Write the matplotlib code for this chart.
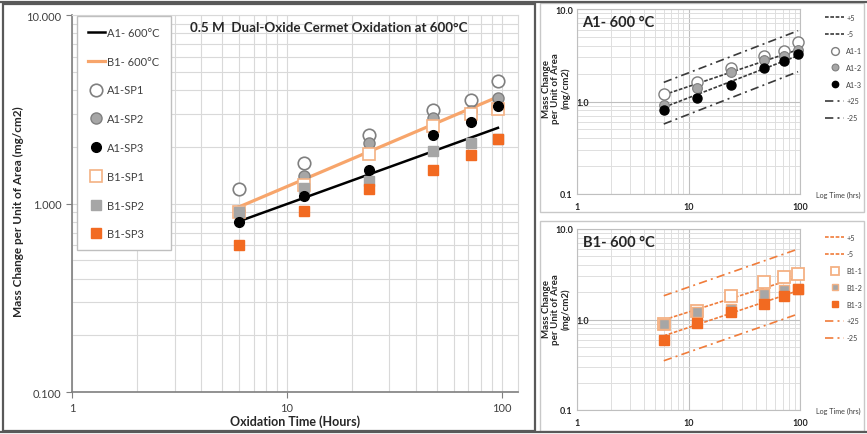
import matplotlib
matplotlib.use("Agg")
import matplotlib.pyplot as plt
from matplotlib.patches import Rectangle
from matplotlib.lines import Line2D
from matplotlib.ticker import FixedLocator, LogLocator, NullFormatter
from matplotlib.transforms import ScaledTranslation

plt.rcParams['font.family'] = ['Lato', 'DejaVu Sans']

# ---------------- data ----------------
hours = [6, 12, 24, 48, 72, 96]
a1_sp1 = [1.20, 1.64, 2.32, 3.13, 3.53, 4.44]
a1_sp2 = [0.91, 1.40, 2.10, 2.83, 3.11, 3.62]
a1_sp3 = [0.80, 1.09, 1.50, 2.30, 2.71, 3.28]
b1_sp1 = [0.90, 1.25, 1.82, 2.57, 2.97, 3.18]
b1_sp2 = [0.90, 1.21, 1.31, 1.89, 2.10, 2.20]
b1_sp3 = [0.60, 0.91, 1.20, 1.50, 1.80, 2.20]

fit_hours = [6, 96]
a1_fit = [0.805, 2.52]
b1_fit = [0.96, 3.68]

# band lines in the small panels (+S, -S, +2S, -2S)
a1_plus_s = [1.18, 3.63]
a1_minus_s = [0.865, 3.13]
a1_plus_2s = [1.61, 5.82]
a1_minus_2s = [0.571, 2.10]
b1_plus_s = [0.99, 2.93]
b1_minus_s = [0.66, 2.08]
b1_plus_2s = [1.83, 6.0]
b1_minus_2s = [0.35, 1.15]

y_ticks = [0.1, 1, 10]
main_y_labels = ['0.100', '1.000', '10.000']
small_y_labels = ['0.1', '1.0', '10.0']
x_ticks = [1, 10, 100]
x_labels = ['1', '10', '100']

W, H = 867, 435
fig = plt.figure(figsize=(W / 100, H / 100), dpi=100)


def frac_rect(x0, y0, x1, y1):
    return [x0 / W, 1 - y1 / H, (x1 - x0) / W, (y1 - y0) / H]


GRAY_TXT = '#404040'
ORANGE = '#f26a21'
LIGHT_OR = '#f4b183'
GRAY_FILL = '#a6a6a6'
GRAY_EDGE = '#7f7f7f'

# ---------------- main chart ----------------
ax = fig.add_axes(frac_rect(72, 16, 518, 393))
ax.set_xscale('log')
ax.set_yscale('log')
ax.set_xlim(1, 119)
ax.set_ylim(0.1, 10)

ax.plot(fit_hours, a1_fit, color='black', lw=1.8, label='A1- 600°C', zorder=3)
ax.plot(fit_hours, b1_fit, color='#f7a56b', lw=2.3, label='B1- 600°C', zorder=3)
ax.plot(hours, a1_sp1, 'o', ms=9, mfc='white', mec=GRAY_EDGE, mew=1.2, label='A1-SP1', zorder=4)
ax.plot(hours, a1_sp2, 'o', ms=8, mfc=GRAY_FILL, mec=GRAY_EDGE, mew=1.0, label='A1-SP2', zorder=4)
ax.plot(hours, a1_sp3, 'o', ms=7, mfc='black', mec='black', label='A1-SP3', zorder=5)
ax.plot(hours, b1_sp1, 's', ms=8, mfc='white', mec=LIGHT_OR, mew=1.2, label='B1-SP1', zorder=4)
ax.plot(hours, b1_sp2, 's', ms=7, mfc=GRAY_FILL, mec=GRAY_FILL, label='B1-SP2', zorder=4)
ax.plot(hours, b1_sp3, 's', ms=7, mfc=ORANGE, mec=ORANGE, label='B1-SP3', zorder=5)

ax.grid(True, which='both', color='#d9d9d9', lw=0.8, zorder=0)
ax.set_axisbelow(True)
ax.yaxis.set_major_locator(FixedLocator(y_ticks))
ax.set_yticklabels(main_y_labels)
ax.xaxis.set_major_locator(FixedLocator(x_ticks))
ax.set_xticklabels(x_labels)
ax.xaxis.set_minor_locator(LogLocator(base=10, subs=range(2, 10)))
ax.yaxis.set_minor_locator(LogLocator(base=10, subs=range(2, 10)))
ax.xaxis.set_minor_formatter(NullFormatter())
ax.yaxis.set_minor_formatter(NullFormatter())
ax.tick_params(which='major', length=4, color='#7f7f7f', labelsize=8, labelcolor=GRAY_TXT)
ax.tick_params(which='minor', length=0)
for s in ['top', 'right']:
    ax.spines[s].set_color('#d9d9d9')
for s in ['left', 'bottom']:
    ax.spines[s].set_color('#7f7f7f')
    ax.spines[s].set_linewidth(1.2)

ax.set_xlabel('Oxidation Time (Hours)', fontsize=9, fontweight='bold', color='#262626', labelpad=1)
ax.set_ylabel('Mass Change per Unit of Area (mg/cm2)', fontsize=8.5, fontweight='bold', color='#262626',
              labelpad=4)
ax.yaxis.set_label_coords(-0.107, 0.48)
ax.text(0.265, 0.985, '0.5 M  Dual-Oxide Cermet Oxidation at 600°C', transform=ax.transAxes,
        fontsize=9.6, fontweight='bold', color='#262626', va='top', ha='left')

leg = ax.legend(loc='upper left', bbox_to_anchor=(0.011, 0.998), fontsize=8, labelspacing=1.6,
                handlelength=1.5, handletextpad=0.2, borderpad=1.0, fancybox=False,
                edgecolor='#bfbfbf', framealpha=1, borderaxespad=0)
leg.get_frame().set_linewidth(1.0)
for t in leg.get_texts():
    t.set_color(GRAY_TXT)


# ---------------- small panels ----------------
def small_panel(rect_px, title, sets, bands, line_color, leg_labels, ylab_shift):
    a = fig.add_axes(frac_rect(*rect_px))
    a.set_xscale('log')
    a.set_yscale('log')
    a.set_xlim(1, 100)
    a.set_ylim(0.1, 10)
    p_s, m_s, p_2s, m_2s = bands
    h1, = a.plot(fit_hours, p_s, ls=(0, (2.2, 1.0)), color=line_color, lw=1.2, zorder=3)
    h2, = a.plot(fit_hours, m_s, ls=(0, (2.2, 1.0)), color=line_color, lw=1.2, zorder=3)
    h6, = a.plot(fit_hours, p_2s, ls=(0, (5, 2.5, 1.2, 2.5)), color=line_color, lw=1.2, zorder=3)
    h7, = a.plot(fit_hours, m_2s, ls=(0, (5, 2.5, 1.2, 2.5)), color=line_color, lw=1.2, zorder=3)
    mh = []
    for vals, kw in sets:
        h, = a.plot(hours, vals, ls='none', zorder=4, clip_on=False, **kw)
        mh.append(h)
    handles = [h1, h2] + mh + [h6, h7]
    a.grid(True, which='major', color='#bfbfbf', lw=0.8, zorder=0)
    a.grid(True, which='minor', color='#dedede', lw=0.7, zorder=0)
    a.set_axisbelow(True)
    a.yaxis.set_major_locator(FixedLocator(y_ticks))
    a.set_yticklabels(small_y_labels)
    a.xaxis.set_major_locator(FixedLocator(x_ticks))
    a.set_xticklabels(x_labels)
    a.xaxis.set_minor_locator(LogLocator(base=10, subs=range(2, 10)))
    a.yaxis.set_minor_locator(LogLocator(base=10, subs=range(2, 10)))
    a.xaxis.set_minor_formatter(NullFormatter())
    a.yaxis.set_minor_formatter(NullFormatter())
    a.tick_params(which='both', length=0, labelsize=6.5, labelcolor='#262626')
    a.tick_params(axis='x', pad=6)
    a.tick_params(axis='y', pad=3)
    for lab in a.get_xticklabels() + a.get_yticklabels():
        lab.set_fontweight('bold')
    # the "1.0" label sits just inside the plot area, as in the source figure
    ylabs = a.get_yticklabels()
    ylabs[1].set_transform(ylabs[1].get_transform() + ScaledTranslation(16 / 100, 0, fig.dpi_scale_trans))
    for s in a.spines.values():
        s.set_color('#bfbfbf')
        s.set_linewidth(0.8)
    a.text(0.025, 0.965, title, transform=a.transAxes, fontsize=10.5, fontweight='bold',
           color='#262626', va='top', ha='left')
    a.text(1.07, 0.0, 'Log Time (hrs)', transform=a.transAxes, fontsize=5.2,
           color=GRAY_TXT, va='center', ha='left')
    lg = a.legend(handles, leg_labels, loc='upper left', bbox_to_anchor=(1.1, 0.99), fontsize=5.2,
                  labelspacing=1.35, handlelength=2.6, handletextpad=0.3, frameon=False,
                  borderaxespad=0, markerscale=0.7)
    for t in lg.get_texts():
        t.set_color(GRAY_TXT)
    x0, y0, x1, y1 = rect_px
    fig.text(556 / W, 1 - ((y0 + y1) / 2 + ylab_shift) / H, 'Mass Change\nper Unit of Area\n(mg/cm2)',
             rotation=90, ha='center', va='center', fontsize=7, fontweight='bold',
             color='#262626', linespacing=1.05)
    return a


small_panel((577, 10, 800, 195), 'A1- 600 °C',
            [(a1_sp1, dict(marker='o', ms=8, mfc='white', mec=GRAY_EDGE, mew=1.0)),
             (a1_sp2, dict(marker='o', ms=7, mfc=GRAY_FILL, mec=GRAY_EDGE, mew=0.8)),
             (a1_sp3, dict(marker='o', ms=6.5, mfc='black', mec='black'))],
            (a1_plus_s, a1_minus_s, a1_plus_2s, a1_minus_2s), '#3a3a3a',
            ['+5', '-5', 'A1-1', 'A1-2', 'A1-3', '+25', '-25'], -14)

small_panel((577, 230, 800, 411), 'B1- 600 °C',
            [(b1_sp1, dict(marker='s', ms=8, mfc='white', mec=LIGHT_OR, mew=1.3)),
             (b1_sp2, dict(marker='s', ms=7, mfc=GRAY_FILL, mec=LIGHT_OR, mew=1.0)),
             (b1_sp3, dict(marker='s', ms=6.5, mfc=ORANGE, mec=ORANGE))],
            (b1_plus_s, b1_minus_s, b1_plus_2s, b1_minus_2s), '#f07c3a',
            ['+5', '-5', 'B1-1', 'B1-2', 'B1-3', '+25', '-25'], -11)

# ---------------- frames ----------------
def px_rect(x0, y0, x1, y1, **kw):
    r = Rectangle((x0 / W, 1 - y1 / H), (x1 - x0) / W, (y1 - y0) / H,
                  transform=fig.transFigure, fill=False, **kw)
    fig.add_artist(r)

px_rect(3, 5, 535, 432, edgecolor='#595959', lw=1.6)
px_rect(540, 4, 864, 213, edgecolor='#c8c8c8', lw=1.0)
px_rect(540, 222, 864, 432, edgecolor='#c8c8c8', lw=1.0)
fig.add_artist(Line2D([0, 1], [1 - 3 / H, 1 - 3 / H], transform=fig.transFigure, color='#595959', lw=1.6))
fig.add_artist(Line2D([0, 1], [1 - 433 / H, 1 - 433 / H], transform=fig.transFigure, color='#595959', lw=1.6))

fig.savefig('out.png', dpi=100)
